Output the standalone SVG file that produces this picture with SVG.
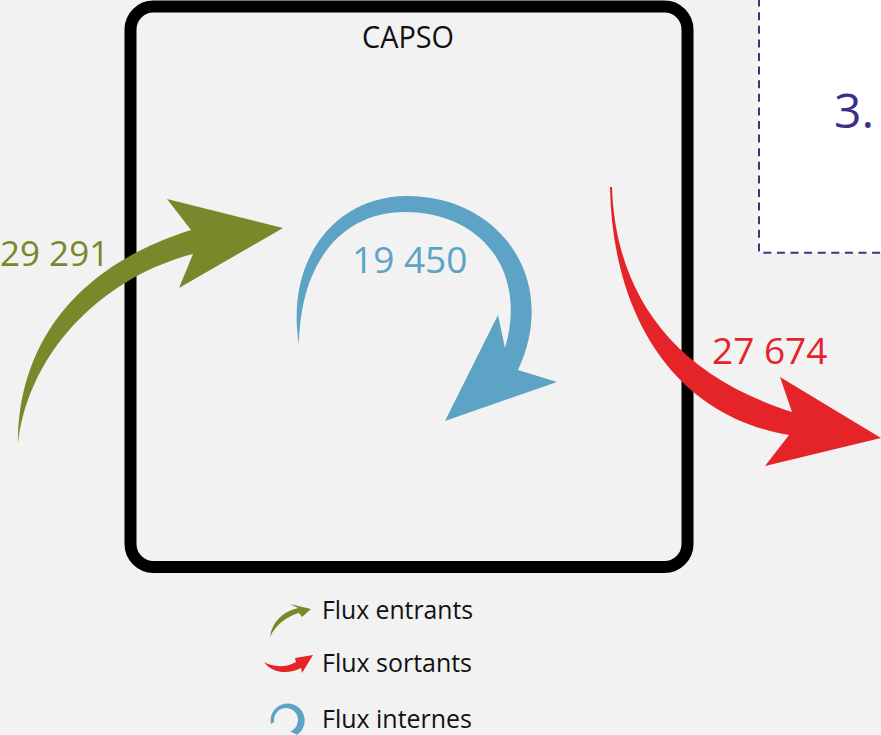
<svg xmlns="http://www.w3.org/2000/svg" width="881" height="735" viewBox="0 0 881 735">
<style>
  .lbl { font-family: "Open Sans", "Liberation Sans", sans-serif; }
  .green { fill: #7a882b; }
  .red { fill: #e5242a; }
  .blue { fill: #5ca3c6; }
  .legend { font-family: "Open Sans", "Liberation Sans", sans-serif; font-size: 25px; fill: #111111; }
</style>
<rect x="0" y="0" width="881" height="735" fill="#f2f2f2"/>
<g id="capso">
  <rect x="130.5" y="6.5" width="557" height="560.5" rx="23" ry="23" fill="#f2f2f2" stroke="#000000" stroke-width="12"/>
  <text class="lbl" x="408" y="48" font-size="31" text-anchor="middle" fill="#111111" textLength="92" lengthAdjust="spacingAndGlyphs">CAPSO</text>
</g>
<g id="box3">
  <rect x="759" y="-10" width="140" height="262.7" fill="#ffffff" stroke="#3b3389" stroke-width="2" stroke-dasharray="8 5.6"/>
  <text class="lbl" x="834" y="128" font-size="48" fill="#3b3089">3.</text>
</g>
<g id="connectors">
  <g id="flux-entrants">
    <path class="green" d="M 18,443 C 18,350 70,268 191,230 L 167,199 L 283,228 L 179,288 L 193,254 C 110,275 30,345 18,443 Z"/>
    <text class="lbl green" x="0" y="266" font-size="35">29 291</text>
  </g>
  <g id="flux-internes">
    <path class="blue" d="M 299,345 C 285,260 335,196 407,196 C 500,196 560,280 518,370 L 557,382 L 445,421 L 498,315 L 505,348 C 528,270 480,212 405,212 C 340,212 300,265 299,345 Z"/>
    <text class="lbl blue" x="352" y="273" font-size="37">19 450</text>
  </g>
  <g id="flux-sortants">
    <path class="red" d="M 612,187 C 615,280 660,370 792,412 L 780,377 L 881,438 L 765,466 L 789,435 C 670,415 612,310 610,187 Z"/>
    <text class="lbl red" x="712" y="364" font-size="37">27 674</text>
  </g>
</g>
<g id="legend">
  <path class="green" d="M 270,637 C 272,622 282,612 298,608 L 290,604 L 311,609 L 302,617 L 299,613 C 288,616 276,624 270,637 Z"/>
  <text class="legend" x="322" y="619" textLength="151" lengthAdjust="spacingAndGlyphs">Flux entrants</text>
  <path class="red" d="M 264,662 C 272,667 286,668 296,662 L 295,658 L 313,655 L 302,673 L 301,668 C 288,675 272,673 264,662 Z"/>
  <text class="legend" x="322" y="672" textLength="150" lengthAdjust="spacingAndGlyphs">Flux sortants</text>
  <path class="blue" d="M 271,724 A 17,17 0 1 1 297,734.7 L 290.1,731.3 A 12,12 0 1 0 274.2,722 Z"/>
  <text class="legend" x="322" y="728" textLength="150" lengthAdjust="spacingAndGlyphs">Flux internes</text>
</g>
</svg>
